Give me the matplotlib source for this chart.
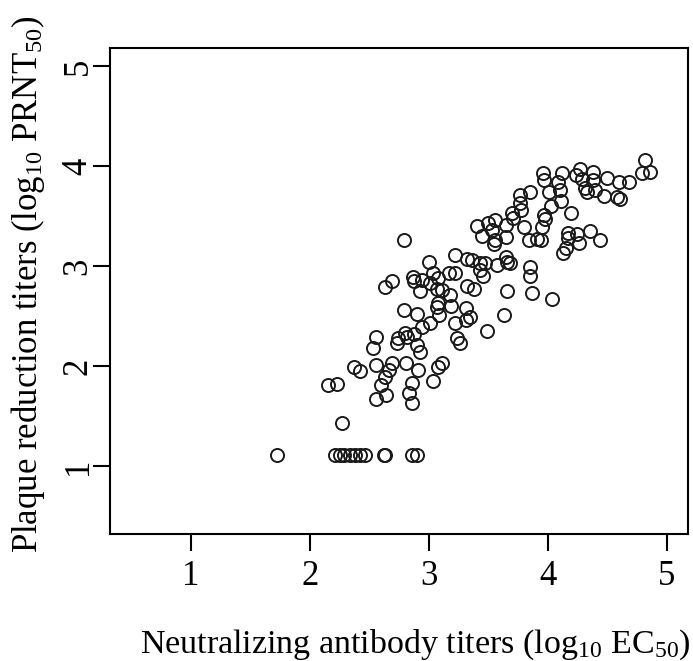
import matplotlib
matplotlib.use('Agg')
import matplotlib.pyplot as plt

plt.rcParams['font.family'] = ['Liberation Serif', 'DejaVu Serif']
plt.rcParams['mathtext.fontset'] = 'custom'
plt.rcParams['mathtext.rm'] = 'Liberation Serif'
plt.rcParams['mathtext.it'] = 'Liberation Serif:italic'

# log10 EC50 (x) vs log10 PRNT50 (y)
ec50 = [1.72, 2.21, 2.25, 2.29, 2.34, 2.38, 2.42, 2.46, 2.62, 2.63, 2.86, 2.90,
        2.27, 2.15, 2.23, 2.37, 2.42,
        2.56, 2.64, 2.60, 2.63, 2.67, 2.69, 2.56, 2.53, 2.56,
        2.81, 2.91, 2.86, 2.83, 2.86, 3.04, 3.08, 3.11,
        2.73, 2.74, 2.80, 2.82, 2.88, 2.90, 2.93, 2.94, 3.01,
        2.79, 2.90, 3.07, 3.08, 3.19, 3.09,
        3.22, 3.31, 3.35, 3.24, 3.26, 3.49, 3.31, 3.63,
        2.63, 2.69, 2.79, 2.87, 2.88, 2.94, 2.93,
        3.04, 3.01, 3.08, 3.07, 3.11, 3.17, 3.22, 3.18, 3.32, 3.38,
        3.00, 3.22, 3.32, 3.36, 3.43, 3.47, 3.43, 3.46, 3.57,
        3.45, 3.55, 3.56, 3.53, 3.41, 3.50, 3.56, 3.65, 3.65, 3.80,
        3.70, 3.71, 3.78, 3.77, 3.77, 3.85,
        3.65, 3.66, 3.68, 3.85, 3.85, 3.66, 3.87, 4.04,
        3.84, 3.91, 3.94, 3.95, 3.97, 3.98,
        4.01, 4.03, 3.96, 3.97,
        4.12, 4.09, 4.10, 4.11,
        4.20, 4.17, 4.17, 4.25, 4.26, 4.36, 4.44, 4.15, 4.13,
        4.27, 4.24, 4.29, 4.31, 4.33, 4.38, 4.38, 4.40,
        4.50, 4.47, 4.58, 4.61, 4.60, 4.68,
        4.82, 4.79, 4.86]
prnt50 = [1.11, 1.11, 1.11, 1.11, 1.11, 1.11, 1.11, 1.11, 1.11, 1.11, 1.11, 1.11,
          1.43, 1.81, 1.82, 1.99, 1.95,
          1.67, 1.71, 1.81, 1.89, 1.96, 2.03, 2.01, 2.18, 2.29,
          2.03, 1.96, 1.83, 1.73, 1.63, 1.85, 1.99, 2.03,
          2.23, 2.28, 2.33, 2.29, 2.32, 2.21, 2.14, 2.39, 2.43,
          2.56, 2.52, 2.59, 2.63, 2.60, 2.51,
          2.43, 2.46, 2.49, 2.28, 2.23, 2.35, 2.58, 2.51,
          2.79, 2.85, 3.26, 2.89, 2.85, 2.86, 2.75,
          2.93, 2.83, 2.88, 2.77, 2.76, 2.93, 2.93, 2.71, 2.80, 2.77,
          3.04, 3.11, 3.07, 3.06, 3.03, 3.03, 2.96, 2.90, 3.01,
          3.30, 3.22, 3.26, 3.36, 3.40, 3.43, 3.46, 3.41, 3.29, 3.39,
          3.53, 3.48, 3.56, 3.63, 3.71, 3.74,
          3.09, 3.04, 3.03, 2.99, 2.90, 2.75, 2.73, 2.67,
          3.26, 3.27, 3.26, 3.39, 3.51, 3.47,
          3.74, 3.60, 3.93, 3.86,
          3.93, 3.84, 3.76, 3.65,
          3.53, 3.33, 3.28, 3.32, 3.23, 3.35, 3.26, 3.18, 3.13,
          3.97, 3.91, 3.87, 3.78, 3.74, 3.94, 3.86, 3.76,
          3.88, 3.70, 3.69, 3.67, 3.84, 3.84,
          4.06, 3.93, 3.94]

ticks = [1, 2, 3, 4, 5]

W, H = 693, 661
fig = plt.figure(figsize=(W / 100, H / 100), dpi=100)
ax = fig.add_axes([110 / W, 1 - 534 / H, 578 / W, 486 / H])

ax.plot(ec50, prnt50, 'o', ms=9.4, mfc='none', mec='#1a1a1a', mew=1.4)

ax.set_xlim(0.32, 5.18)
ax.set_ylim(0.32, 5.18)
ax.set_xticks(ticks)
ax.set_yticks(ticks)
ax.tick_params(axis='both', length=12, width=1.5, labelsize=25, direction='out')
ax.tick_params(axis='x', pad=7)
ax.tick_params(axis='y', pad=-1)
for lab in ax.get_yticklabels():
    lab.set_rotation(90)
    lab.set_va('center')

for s in ax.spines.values():
    s.set_linewidth(1.5)

# axis titles placed by pixel, as in the (cropped) original
fig.text(140 / W, 1 - 653 / H, r'Neutralizing antibody titers (log$_{10}$ EC$_{50}$)',
         fontsize=24.5, ha='left', va='baseline')
fig.text(37 / W, 1 - 553 / H, r'Plaque reduction titers (log$_{10}$ PRNT$_{50}$)',
         fontsize=25, ha='left', va='baseline', rotation=90, rotation_mode='anchor')

fig.savefig('out.png', dpi=100)
